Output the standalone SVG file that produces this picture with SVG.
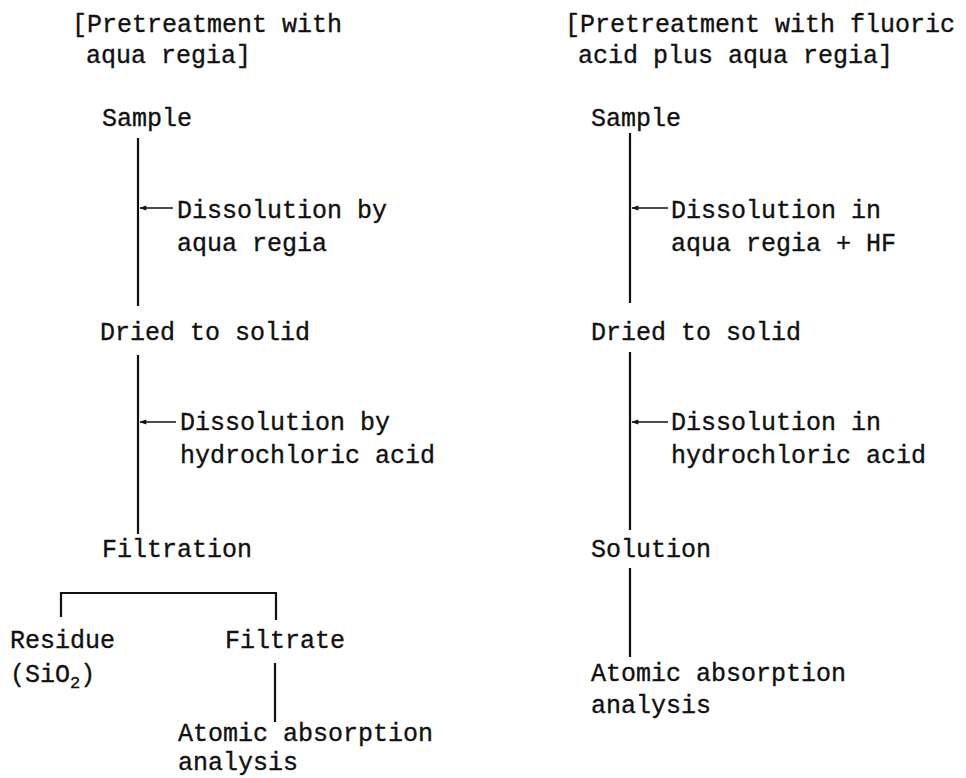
<svg xmlns="http://www.w3.org/2000/svg" width="966" height="778" viewBox="0 0 966 778">
<defs>
<style>
text{font-family:"Liberation Mono","Courier New",monospace;font-size:25px;fill:#111;stroke:#111;stroke-width:0.35;}
.ln{stroke:#111;stroke-width:2.2;fill:none;}
.ar{stroke:#111;stroke-width:1.4;fill:none;}
</style>
<marker id="ah" viewBox="0 0 10 10" refX="9" refY="5" markerWidth="8" markerHeight="7" orient="auto" markerUnits="userSpaceOnUse">
<path d="M10,5 L0,1.5 L0,8.5 Z" fill="#111"/>
</marker>
</defs>
<rect width="966" height="778" fill="#fff"/>
<g id="title-left"><text x="72" y="32">[Pretreatment with</text><text x="86" y="63">aqua regia]</text></g>
<g id="title-right"><text x="565" y="32">[Pretreatment with fluoric</text><text x="578" y="63">acid plus aqua regia]</text></g>
<g id="l-sample"><text x="102" y="126">Sample</text></g>
<g id="l-diss1"><text x="177" y="218">Dissolution by</text><text x="177" y="251">aqua regia</text></g>
<g id="l-dried"><text x="100" y="340">Dried to solid</text></g>
<g id="l-diss2"><text x="180" y="430">Dissolution by</text><text x="180" y="463">hydrochloric acid</text></g>
<g id="l-filtration"><text x="102" y="557">Filtration</text></g>
<g id="l-residue"><text x="10" y="648">Residue</text><text x="10" y="682">(SiO<tspan font-size="17" dy="6">2</tspan><tspan dy="-6">)</tspan></text></g>
<g id="l-filtrate"><text x="225" y="648">Filtrate</text></g>
<g id="l-aas"><text x="178" y="741">Atomic absorption</text><text x="178" y="770">analysis</text></g>
<g id="r-sample"><text x="591" y="126">Sample</text></g>
<g id="r-diss1"><text x="671" y="218">Dissolution in</text><text x="671" y="251">aqua regia + HF</text></g>
<g id="r-dried"><text x="591" y="340">Dried to solid</text></g>
<g id="r-diss2"><text x="671" y="430">Dissolution in</text><text x="671" y="463">hydrochloric acid</text></g>
<g id="r-solution"><text x="591" y="557">Solution</text></g>
<g id="r-aas"><text x="591" y="681">Atomic absorption</text><text x="591" y="713">analysis</text></g>
<g id="connectors">
<line class="ln" x1="138" y1="138" x2="138" y2="306"/>
<line class="ln" x1="138" y1="355" x2="138" y2="534"/>
<path class="ln" d="M61,617 V593 H276 V620"/>
<line class="ln" x1="275" y1="663" x2="275" y2="722"/>
<line class="ar" x1="173" y1="208" x2="140" y2="208" marker-end="url(#ah)"/>
<line class="ar" x1="176" y1="422" x2="140" y2="422" marker-end="url(#ah)"/>
<line class="ln" x1="630" y1="133" x2="630" y2="303"/>
<line class="ln" x1="630" y1="352" x2="630" y2="530"/>
<line class="ln" x1="630" y1="568" x2="630" y2="657"/>
<line class="ar" x1="668" y1="208" x2="632" y2="208" marker-end="url(#ah)"/>
<line class="ar" x1="668" y1="422" x2="632" y2="422" marker-end="url(#ah)"/>
</g>
</svg>
